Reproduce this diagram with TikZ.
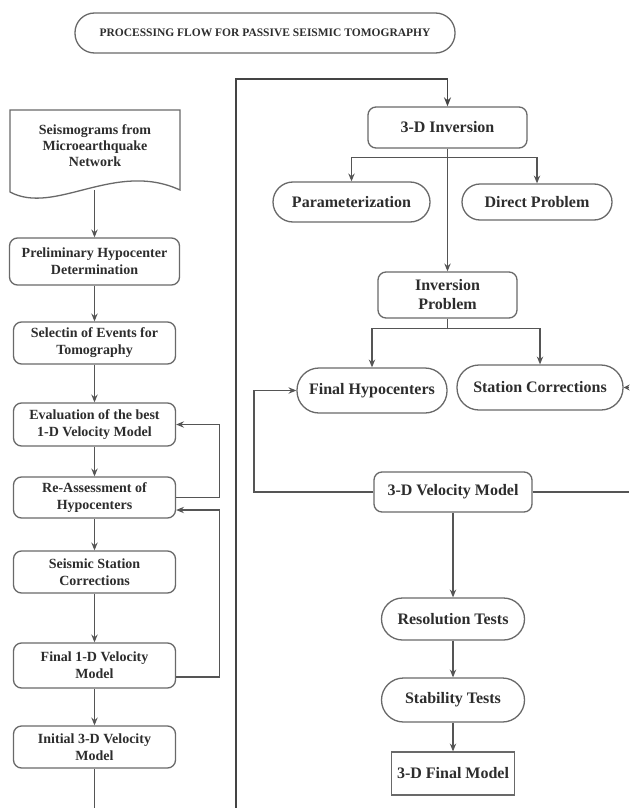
\documentclass[tikz,border=0pt]{standalone}
\usepackage{fontspec}
\setmainfont{Liberation Serif}
\usetikzlibrary{arrows.meta,calc}
\definecolor{linec}{RGB}{85,85,85}
\definecolor{boxc}{RGB}{105,105,105}
\definecolor{txtc}{RGB}{45,45,45}
\begin{document}
\begin{tikzpicture}[x=1pt,y=-1pt,
  box/.style={draw=boxc, line width=1.3pt, inner sep=0pt, align=center, text=txtc},
  lbox/.style={box, rounded corners=8pt, minimum width=162pt, font=\fontsize{14}{17}\selectfont\bfseries},
  rbox/.style={box, rounded corners=8pt, font=\fontsize{16}{19}\selectfont\bfseries},
  stad/.style={box, font=\fontsize{16}{19}\selectfont\bfseries},
  arr/.style={draw=linec, line width=1.1pt, -{Stealth[length=8pt,width=6.5pt,inset=3pt]}},
  plain/.style={draw=linec, line width=1.1pt},
  thick line/.style={draw=linec!80!black, line width=1.6pt}
]
\useasboundingbox (0,0) rectangle (629,808);
\fill[white] (0,0) rectangle (629,808);

% title
\node[box, rounded corners=19.5pt, minimum width=380pt, minimum height=40pt,
      font=\fontsize{11.5}{13}\selectfont\bfseries] (title) at (265,33)
      {PROCESSING FLOW FOR PASSIVE SEISMIC TOMOGRAPHY};

% document shape
\draw[draw=boxc, line width=1.3pt] (10,110) -- (180,110) -- (180,190)
   .. controls (115,160) and (55,216) .. (10,192) -- cycle;
\node[align=center, text=txtc, font=\fontsize{14}{16}\selectfont\bfseries] (doc) at (95,146)
   {Seismograms from\\Microearthquake\\Network};
\coordinate (docb) at (94.5,190);

% left column
\node[lbox, minimum width=170pt, minimum height=47pt] (prelim) at (94.5,261.5) {Preliminary Hypocenter\\Determination};
\node[lbox, minimum height=42pt] (select) at (94.5,343) {Selectin of Events for\\Tomography};
\node[lbox, minimum height=43pt] (eval) at (94.5,424.5) {Evaluation of the best\\1-D Velocity Model};
\node[lbox, minimum height=41pt] (reass) at (94.5,497.5) {Re-Assessment of\\Hypocenters};
\node[lbox, minimum height=42pt] (seis) at (94.5,572) {Seismic Station\\Corrections};
\node[lbox, minimum height=45pt] (final1d) at (94.5,665.5) {Final 1-D Velocity\\Model};
\node[lbox, minimum height=42pt] (init3d) at (94.5,747) {Initial 3-D Velocity\\Model};

\draw[arr] (docb) -- (prelim);
\draw[arr] (prelim) -- (select);
\draw[arr] (select) -- (eval);
\draw[arr] (eval) -- (reass);
\draw[arr] (reass) -- (seis);
\draw[arr] (seis) -- (final1d);
\draw[arr] (final1d) -- (init3d);

% feedback loops on the left
\draw[arr] (reass.east) -- ++(43,0) |- (eval.east);
\draw[arr] ([yshift=-11.5pt]final1d.east) -- ++(43,0) |- ([yshift=-12.5pt]reass.east);

% bottom connections
\coordinate (bl) at (94.5,808);
\coordinate (bm) at (236,808);
\coordinate (tm) at (236,79);
\draw[plain] (init3d.south) -- (bl);

% right column
\node[rbox, minimum width=159pt, minimum height=41pt] (inv3d) at (447.5,127.5) {3-D Inversion};
\node[stad, rounded corners=20pt, minimum width=157pt, minimum height=40pt] (param) at (351.5,202) {Parameterization};
\node[stad, rounded corners=18pt, minimum width=150pt, minimum height=36pt] (direct) at (537,202) {Direct Problem};
\node[rbox, minimum width=139pt, minimum height=46pt] (invprob) at (447.5,295) {Inversion\\Problem};
\node[stad, rounded corners=22pt, minimum width=150pt, minimum height=45pt] (finalhyp) at (372,390.5) {Final Hypocenters};
\node[stad, rounded corners=22pt, minimum width=166pt, minimum height=45pt] (stcorr) at (540,387.5) {Station Corrections};
\node[rbox, minimum width=158pt, minimum height=40pt] (vm3d) at (453,492) {3-D Velocity Model};
\node[stad, rounded corners=21pt, minimum width=143pt, minimum height=42pt] (resol) at (453,619) {Resolution Tests};
\node[stad, rounded corners=22pt, minimum width=143pt, minimum height=44pt] (stab) at (453,700) {Stability Tests};
\node[box, minimum width=123pt, minimum height=43pt, font=\fontsize{16}{19}\selectfont\bfseries] (final3d) at (453,773.5) {3-D Final Model};

\draw[thick line, -{Stealth[length=9pt,width=7pt,inset=3pt]}] (bm) -- (tm) -| (inv3d.north);

\draw[arr] (inv3d.south) -- (invprob.north);
\draw[arr] ($(inv3d.south)+(0,9)$) -| (param.north);
\draw[arr] ($(inv3d.south)+(0,9)$) -| (direct.north);

\draw[plain] (invprob.south) -- ++(0,10);
\draw[arr] ($(invprob.south)+(0,10)$) -| (finalhyp.north);
\draw[arr] ($(invprob.south)+(0,10)$) -| (stcorr.north);

\draw[arr] (vm3d.west) -- (254,492) |- (finalhyp.west);
\coordinate (re1) at (629,492);
\coordinate (re2) at (629,387.5);
\draw[plain] (vm3d.east) -- (re1);
\draw[draw=linec, line width=1.1pt, -{Stealth[length=6pt,width=6pt,inset=2pt]}] (re2) -- (stcorr.east);

\draw[arr] (vm3d) -- (resol);
\draw[arr] (resol) -- (stab);
\draw[arr] (stab) -- (final3d);
\end{tikzpicture}
\end{document}
